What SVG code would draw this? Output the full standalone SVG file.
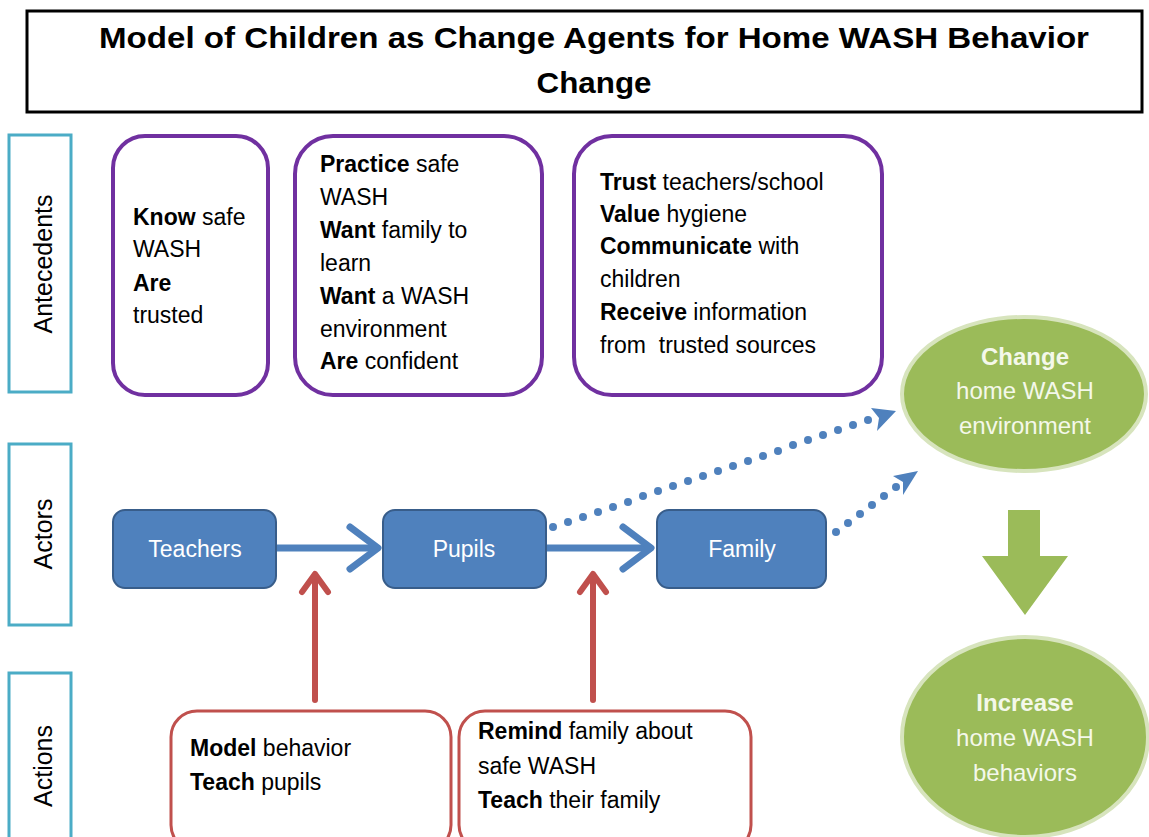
<svg xmlns="http://www.w3.org/2000/svg" width="1149" height="837" viewBox="0 0 1149 837">
<style>
text{font-family:"Liberation Sans",Arial,sans-serif;}
.t{font-size:23px;fill:#000;}
.b{font-weight:bold;}
.lab{font-size:25px;fill:#000;text-anchor:middle;}
.wl{font-size:23px;fill:#fff;text-anchor:middle;}
.gl{font-size:24px;fill:#f4f8ea;text-anchor:middle;}
.side{fill:#fff;stroke:#4bacc6;stroke-width:3;}
.ante{fill:#fff;stroke:#7030a0;stroke-width:4;}
.act{fill:#4f81bd;stroke:#385d8a;stroke-width:2;}
.acn{fill:#fff;stroke:#c0504d;stroke-width:3;}
.oval{fill:#9bbb59;stroke:#d7e4bd;stroke-width:4;}
.dot{fill:#4f81bd;}
</style>
<g id="title">
<rect x="27" y="11" width="1115" height="101" fill="#fff" stroke="#000" stroke-width="3"/>
<text x="594" y="48" font-size="30" font-weight="bold" text-anchor="middle" textLength="990" lengthAdjust="spacingAndGlyphs">Model of Children as Change Agents for Home WASH Behavior</text>
<text x="594" y="93" font-size="30" font-weight="bold" text-anchor="middle" textLength="115" lengthAdjust="spacingAndGlyphs">Change</text>
</g>
<g id="lane-antecedents">
<rect class="side" x="9" y="135" width="62" height="257"/>
<text class="lab" transform="translate(52,264) rotate(-90)">Antecedents</text>
</g>
<g id="lane-actors">
<rect class="side" x="9" y="444" width="62" height="181"/>
<text class="lab" transform="translate(52,534) rotate(-90)">Actors</text>
</g>
<g id="lane-actions">
<rect class="side" x="9" y="673" width="62" height="170"/>
<text class="lab" transform="translate(52,766) rotate(-90)">Actions</text>
</g>
<g id="ante-1">
<rect class="ante" x="113" y="136" width="155" height="259" rx="32"/>
<text class="t" x="133" y="225"><tspan class="b">Know</tspan> safe</text>
<text class="t" x="133" y="257">WASH</text>
<text class="t" x="133" y="291"><tspan class="b">Are</tspan></text>
<text class="t" x="133" y="323">trusted</text>
</g>
<g id="ante-2">
<rect class="ante" x="295" y="136" width="247" height="259" rx="38"/>
<text class="t" x="320" y="172"><tspan class="b">Practice</tspan> safe</text>
<text class="t" x="320" y="205">WASH</text>
<text class="t" x="320" y="238"><tspan class="b">Want</tspan> family to</text>
<text class="t" x="320" y="271">learn</text>
<text class="t" x="320" y="304"><tspan class="b">Want</tspan> a WASH</text>
<text class="t" x="320" y="337">environment</text>
<text class="t" x="320" y="369"><tspan class="b">Are</tspan> confident</text>
</g>
<g id="ante-3">
<rect class="ante" x="574" y="136" width="308" height="259" rx="38"/>
<text class="t" x="600" y="190"><tspan class="b">Trust</tspan> teachers/school</text>
<text class="t" x="600" y="222"><tspan class="b">Value</tspan> hygiene</text>
<text class="t" x="600" y="254"><tspan class="b">Communicate</tspan> with</text>
<text class="t" x="600" y="287">children</text>
<text class="t" x="600" y="320"><tspan class="b">Receive</tspan> information</text>
<text class="t" x="600" y="353" xml:space="preserve">from  trusted sources</text>
</g>
<g id="connectors">
<g stroke="#4f81bd" stroke-width="7" fill="none" stroke-linecap="round" stroke-linejoin="round">
<line x1="277" y1="548" x2="376" y2="548"/>
<polyline points="350,527 378,548 350,569"/>
<line x1="547" y1="548" x2="650" y2="548"/>
<polyline points="623,527 651,548 623,569"/>
</g>
<g class="dot">
<circle cx="553" cy="527" r="4"/><circle cx="568" cy="522" r="4"/><circle cx="583" cy="517" r="4"/><circle cx="598" cy="512" r="4"/><circle cx="613" cy="507" r="4"/><circle cx="628" cy="502" r="4"/><circle cx="643" cy="496" r="4"/><circle cx="658" cy="491" r="4"/><circle cx="673" cy="486" r="4"/><circle cx="688" cy="481" r="4"/><circle cx="703" cy="476" r="4"/><circle cx="718" cy="471" r="4"/><circle cx="733" cy="466" r="4"/><circle cx="748" cy="461" r="4"/><circle cx="763" cy="456" r="4"/><circle cx="778" cy="451" r="4"/><circle cx="793" cy="445" r="4"/><circle cx="808" cy="440" r="4"/><circle cx="823" cy="435" r="4"/><circle cx="838" cy="430" r="4"/><circle cx="853" cy="425" r="4"/><circle cx="868" cy="420" r="4"/>
<polygon points="896,411 871,408 879,418 877,431"/>
<circle cx="836" cy="532" r="4"/><circle cx="848" cy="523" r="4"/><circle cx="860" cy="514" r="4"/><circle cx="872" cy="505" r="4"/><circle cx="884" cy="496" r="4"/><circle cx="896" cy="487" r="4"/>
<polygon points="918,471 893,476 903,482 903,495"/>
</g>
<g stroke="#c0504d" stroke-width="6" fill="none" stroke-linecap="round" stroke-linejoin="round">
<line x1="315" y1="700" x2="315" y2="575"/>
<polyline points="302,592 315,574 328,592"/>
<line x1="593" y1="700" x2="593" y2="575"/>
<polyline points="580,592 593,574 606,592"/>
</g>
<polygon points="1008,510 1040,510 1040,556 1068,556 1025,615 982,556 1008,556" fill="#9bbb59"/>
</g>
<g id="teachers">
<rect class="act" x="113" y="510" width="163" height="78" rx="12"/>
<text class="wl" x="195" y="557">Teachers</text>
</g>
<g id="pupils">
<rect class="act" x="383" y="510" width="163" height="78" rx="12"/>
<text class="wl" x="464" y="557">Pupils</text>
</g>
<g id="family">
<rect class="act" x="657" y="510" width="169" height="78" rx="12"/>
<text class="wl" x="742" y="557">Family</text>
</g>
<g id="action-1">
<rect class="acn" x="171" y="711" width="280" height="140" rx="26"/>
<text class="t" x="190" y="756"><tspan class="b">Model</tspan> behavior</text>
<text class="t" x="190" y="790"><tspan class="b">Teach</tspan> pupils</text>
</g>
<g id="action-2">
<rect class="acn" x="459" y="711" width="292" height="140" rx="26"/>
<text class="t" x="478" y="739"><tspan class="b">Remind</tspan> family about</text>
<text class="t" x="478" y="774">safe WASH</text>
<text class="t" x="478" y="808"><tspan class="b">Teach</tspan> their family</text>
</g>
<g id="change-env">
<ellipse class="oval" cx="1024" cy="394" rx="122" ry="77"/>
<text class="gl b" x="1025" y="365">Change</text>
<text class="gl" x="1025" y="399">home WASH</text>
<text class="gl" x="1025" y="434">environment</text>
</g>
<g id="increase-beh">
<ellipse class="oval" cx="1025" cy="737" rx="123" ry="100"/>
<text class="gl b" x="1025" y="711">Increase</text>
<text class="gl" x="1025" y="746">home WASH</text>
<text class="gl" x="1025" y="781">behaviors</text>
</g>
</svg>
